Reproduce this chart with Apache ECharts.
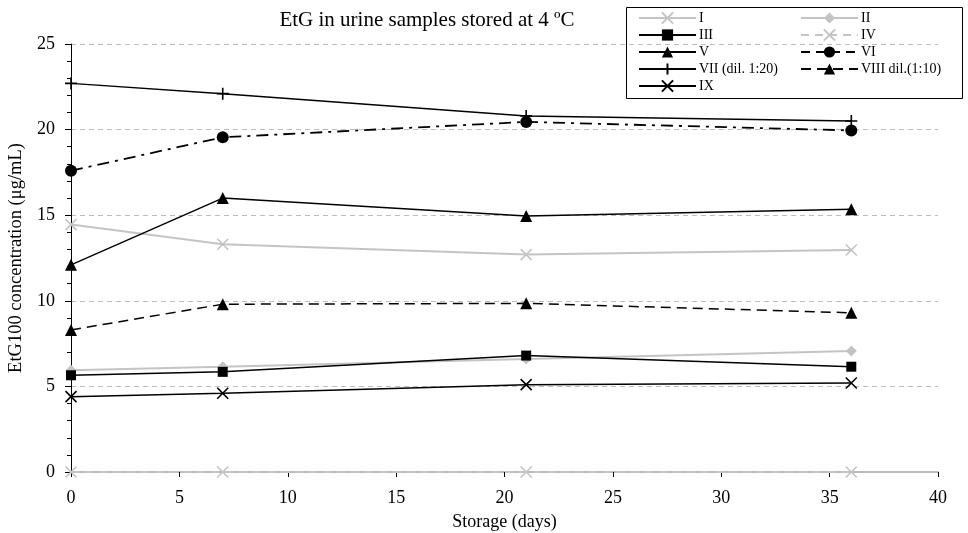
<!DOCTYPE html>
<html><head><meta charset="utf-8">
<script src="https://cdn.jsdelivr.net/npm/echarts@6/dist/echarts.min.js"></script>
<style>html,body{margin:0;padding:0;background:#fff}#c{width:968px;height:533px}</style>
</head><body><div id="c"></div>
<script>
var days = [0, 7, 21, 36];
var seriesNames = ['I','II','III','IV','V','VI','VII (dil. 1:20)','VIII dil.(1:10)','IX'];
var sI    = [14.45, 13.3, 12.7, 12.97];
var sII   = [5.95, 6.15, 6.6, 7.07];
var sIII  = [5.65, 5.85, 6.8, 6.15];
var sIV   = [0, 0, 0, 0];
var sV    = [12.1, 16.0, 14.95, 15.35];
var sVI   = [17.6, 19.55, 20.45, 19.95];
var sVII  = [22.7, 22.1, 20.8, 20.5];
var sVIII = [8.3, 9.8, 9.85, 9.3];
var sIX   = [4.4, 4.6, 5.1, 5.2];
var yTicks = [0, 5, 10, 15, 20, 25];
var xTicks = [0, 5, 10, 15, 20, 25, 30, 35, 40];

var FONT = 'Liberation Serif';
var X = 'path://M0 0L10 10M10 0L0 10';
var PLUS = 'path://M5 0L5 10M0 5L10 5';
function pts(v){ return days.map(function(d,i){ return [d, v[i]]; }); }
function mk(name, vals, color, lineType, symbol, size, width, strokeSym){
  return {
    name: name, type: 'line', data: pts(vals),
    symbol: symbol, symbolSize: size,
    lineStyle: {color: color, width: width, type: lineType},
    itemStyle: strokeSym ? {color: 'rgba(0,0,0,0)', borderColor: color, borderWidth: 1.6}
                         : {color: color, borderWidth: 0},
    emphasis: {disabled: true}, animation: false, z: 3
  };
}
var GR = '#c4c4c4', BK = '#000';
var series = [
  mk(seriesNames[0], sI, GR, 'solid', X, 11, 2, true),
  mk(seriesNames[1], sII, GR, 'solid', 'diamond', 11, 2, false),
  mk(seriesNames[2], sIII, BK, 'solid', 'rect', 10, 1.5, false),
  mk(seriesNames[3], sIV, GR, [8,6], X, 11, 2, true),
  mk(seriesNames[4], sV, BK, 'solid', 'triangle', 12, 1.5, false),
  mk(seriesNames[5], sVI, BK, [12,6,3,6], 'circle', 12, 1.8, false),
  mk(seriesNames[6], sVII, BK, 'solid', PLUS, 12, 1.5, true),
  mk(seriesNames[7], sVIII, BK, [10,6], 'triangle', 12, 1.5, false),
  mk(seriesNames[8], sIX, BK, 'solid', X, 11, 1.5, true)
];

var legendCommon = {
  orient: 'vertical', itemWidth: 57, itemHeight: 14, itemGap: 3,
  textStyle: {fontFamily: FONT, fontSize: 14, color: '#000', padding: [0,0,0,-2]},
  selectedMode: false, padding: 0
};
var chart = echarts.init(document.getElementById('c'), null, {renderer: 'canvas'});
chart.setOption({
  backgroundColor: '#fff',
  animation: false,
  title: {text: 'EtG in urine samples stored at 4 ºC', left: 422, top: 5, textAlign: 'center',
    textStyle: {fontFamily: FONT, fontSize: 21, fontWeight: 'normal', color: '#000'}},
  grid: {left: 71, right: 30, top: 44, bottom: 61, outerBoundsMode: 'none', containLabel: false},
  legend: [
    Object.assign({left: 638, top: 11, data: [seriesNames[0],seriesNames[2],seriesNames[4],seriesNames[6],seriesNames[8]]}, legendCommon),
    Object.assign({left: 800, top: 11, data: [seriesNames[1],seriesNames[3],
      {name: seriesNames[5], lineStyle: {type: [9,6]}}, seriesNames[7]]}, legendCommon)
  ],
  graphic: [{type: 'rect', shape: {x: 626.5, y: 7.5, width: 336, height: 91},
    style: {fill: 'rgba(0,0,0,0)', stroke: '#000', lineWidth: 1}, z: 10}],
  xAxis: {
    type: 'value', min: xTicks[0], max: xTicks[xTicks.length-1], interval: 5,
    name: 'Storage (days)', nameLocation: 'middle', nameGap: 41,
    nameTextStyle: {fontFamily: FONT, fontSize: 18, color: '#000'},
    axisLine: {show: true, onZero: false, lineStyle: {color: '#bbb', width: 2}},
    axisTick: {show: true, length: 5, lineStyle: {color: '#000'}},
    axisLabel: {fontFamily: FONT, fontSize: 18, color: '#000', margin: 17},
    splitLine: {show: false}
  },
  yAxis: {
    type: 'value', min: yTicks[0], max: yTicks[yTicks.length-1], interval: 5,
    name: 'EtG100 concentration (μg/mL)', nameLocation: 'middle', nameGap: 44, nameRotate: 90,
    nameTextStyle: {fontFamily: FONT, fontSize: 18.5, color: '#000'},
    axisLine: {show: true, lineStyle: {color: '#000', width: 1}},
    axisTick: {show: true, length: 6, lineStyle: {color: '#000'}},
    minorTick: {show: true, splitNumber: 5, length: 4, lineStyle: {color: '#000'}},
    axisLabel: {fontFamily: FONT, fontSize: 18, color: '#000', margin: 16},
    splitLine: {show: true, lineStyle: {color: '#bdbdbd', type: [5,4], width: 1}}
  },
  series: series
});
</script></body></html>
